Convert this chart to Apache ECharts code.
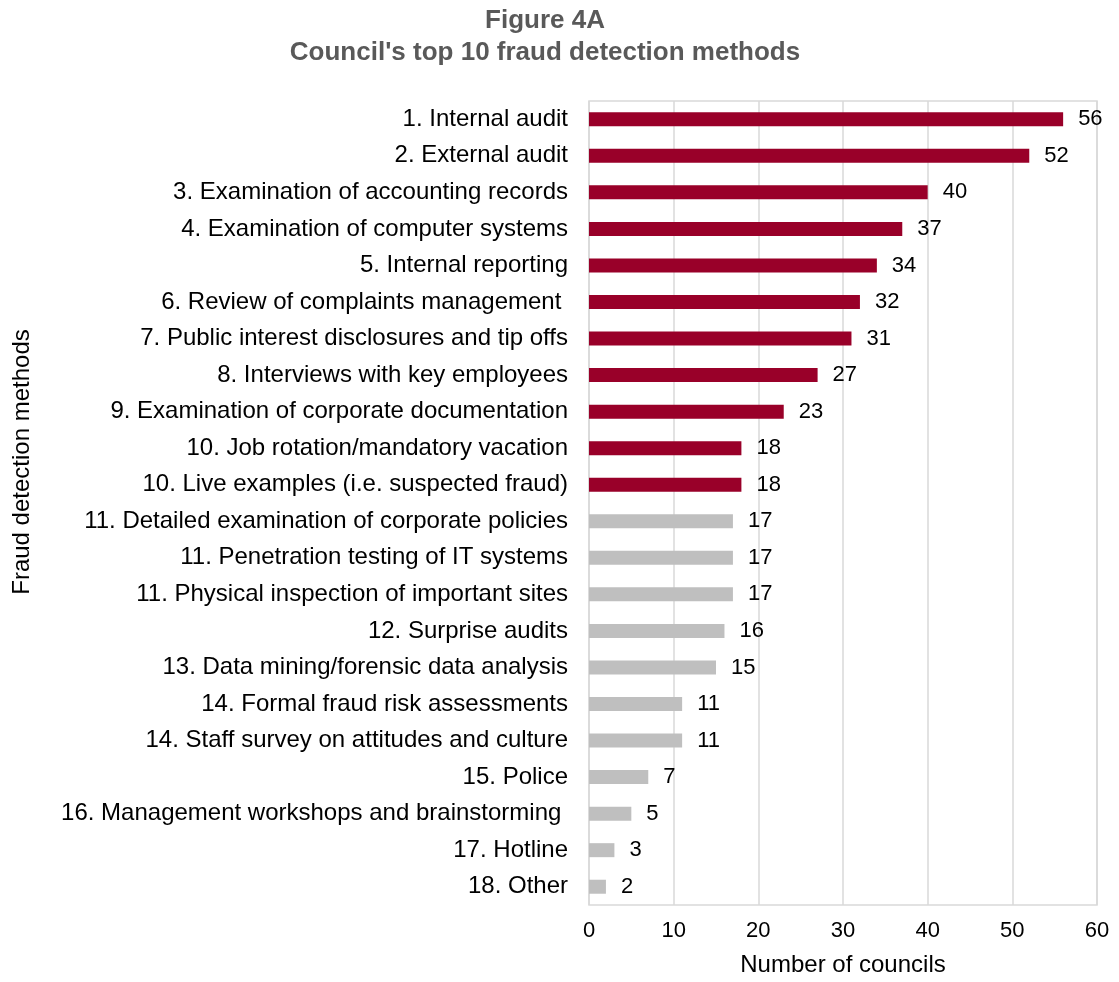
<!DOCTYPE html>
<html>
<head>
<meta charset="utf-8">
<title>Figure 4A</title>
<script src="https://cdn.jsdelivr.net/npm/echarts@6/dist/echarts.min.js"></script>
<style>
  html, body { margin: 0; padding: 0; background: #ffffff; }
  #chart { width: 1119px; height: 982px; }
</style>
</head>
<body>
<div id="chart"></div>
<script>
// Detection methods, ranked from most to least used
const methods = [
  "1. Internal audit",
  "2. External audit",
  "3. Examination of accounting records",
  "4. Examination of computer systems",
  "5. Internal reporting",
  "6. Review of complaints management ",
  "7. Public interest disclosures and tip offs",
  "8. Interviews with key employees",
  "9. Examination of corporate documentation",
  "10. Job rotation/mandatory vacation",
  "10. Live examples (i.e. suspected fraud)",
  "11. Detailed examination of corporate policies",
  "11. Penetration testing of IT systems",
  "11. Physical inspection of important sites",
  "12. Surprise audits",
  "13. Data mining/forensic data analysis",
  "14. Formal fraud risk assessments",
  "14. Staff survey on attitudes and culture",
  "15. Police",
  "16. Management workshops and brainstorming ",
  "17. Hotline",
  "18. Other"
];

// Number of councils using each method
const councils = [56, 52, 40, 37, 34, 32, 31, 27, 23, 18, 18, 17, 17, 17, 16, 15, 11, 11, 7, 5, 3, 2];

// Value axis ticks
const xTicks = [0, 10, 20, 30, 40, 50, 60];

const TOP_COLOR = '#990029';
const REST_COLOR = '#bfbfbf';
const FONT = 'Liberation Sans, Arial, sans-serif';

// Methods ranked 10 or better are highlighted
function rankOf(label) { return parseInt(label, 10); }

const chart = echarts.init(document.getElementById('chart'));

chart.setOption({
  animation: false,
  backgroundColor: '#ffffff',
  textStyle: { fontFamily: FONT },
  title: {
    text: 'Figure 4A\nCouncil\'s top 10 fraud detection methods',
    left: 540,
    top: 0,
    textAlign: 'center',
    textStyle: {
      fontFamily: FONT,
      fontSize: 26,
      fontWeight: 'bold',
      color: '#595959',
      lineHeight: 32
    }
  },
  grid: {
    left: 589,
    right: 22,
    top: 101,
    bottom: 64,
    show: true,
    borderColor: '#d9d9d9',
    borderWidth: 1.5
  },
  xAxis: {
    type: 'value',
    min: xTicks[0],
    max: xTicks[xTicks.length - 1],
    interval: xTicks[1] - xTicks[0],
    axisLine: { show: false },
    axisTick: { show: false },
    splitLine: { show: true, lineStyle: { color: '#d9d9d9', width: 1.5 } },
    axisLabel: {
      fontSize: 22,
      color: '#000000',
      margin: 15,
      fontFamily: FONT
    },
    name: 'Number of councils',
    nameLocation: 'middle',
    nameGap: 48,
    nameTextStyle: {
      fontSize: 24,
      color: '#000000',
      fontFamily: FONT
    }
  },
  yAxis: {
    type: 'category',
    data: methods,
    inverse: true,
    axisLine: { show: false },
    axisTick: { show: false },
    splitLine: { show: false },
    axisLabel: {
      fontSize: 24,
      color: '#000000',
      margin: 21,
      fontFamily: FONT
    }
  },
  graphic: [{
    type: 'text',
    x: 22,
    y: 462,
    rotation: Math.PI / 2,
    style: {
      text: 'Fraud detection methods',
      fontSize: 24,
      fontFamily: FONT,
      fill: '#000000',
      align: 'center',
      verticalAlign: 'middle'
    }
  }],
  series: [{
    type: 'bar',
    barWidth: 14,
    data: councils.map((v, i) => ({
      value: v,
      itemStyle: { color: rankOf(methods[i]) <= 10 ? TOP_COLOR : REST_COLOR }
    })),
    label: {
      show: true,
      position: 'right',
      distance: 15,
      fontSize: 22,
      color: '#000000',
      fontFamily: FONT
    }
  }]
});
</script>
</body>
</html>
